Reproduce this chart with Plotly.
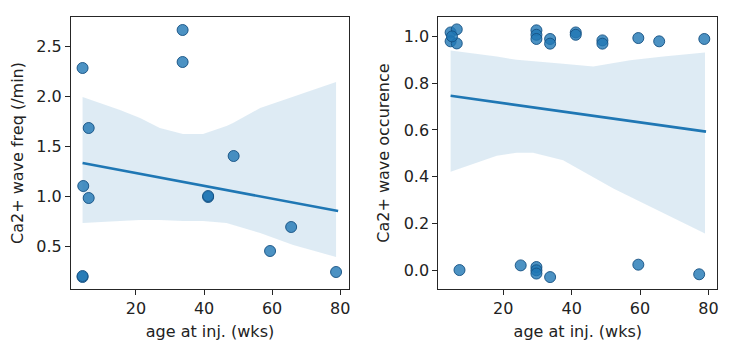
import plotly.graph_objects as go

# ---- data: left panel (wave frequency) ----
freq_age = [4.3, 4.3, 4.5, 6.1, 6.1, 33.7, 33.7, 41.2, 41.2, 48.7, 59.4, 65.6, 78.8, 4.3]
freq_val = [2.28, 0.19, 1.10, 1.68, 0.98, 2.66, 2.34, 0.99, 1.00, 1.40, 0.45, 0.69, 0.24, 0.20]
freq_fit_x = [4.3, 79.4]
freq_fit_y = [1.33, 0.85]
freq_ci_x = [4.3, 15.3, 21.2, 27.0, 33.8, 39.7, 46.6, 48.5, 56.5, 66.2, 78.8]
freq_ci_hi = [1.99, 1.86, 1.78, 1.68, 1.62, 1.62, 1.70, 1.73, 1.88, 1.99, 2.14]
freq_ci_lo = [0.73, 0.75, 0.76, 0.76, 0.75, 0.75, 0.73, 0.71, 0.63, 0.51, 0.39]

# ---- data: right panel (wave occurrence) ----
occ_age = [4.6, 6.4, 4.6, 6.4, 5.0, 29.7, 29.7, 29.7, 33.7, 33.7, 41.2, 41.2, 49.0, 49.0,
           59.5, 65.6, 78.8,
           7.2, 25.1, 29.7, 29.7, 29.7, 33.7, 59.5, 77.3]
occ_val = [1.017, 1.03, 0.979, 0.97, 1.00, 1.026, 1.007, 0.989, 0.989, 0.969, 1.017, 1.007, 0.983, 0.969,
           0.993, 0.979, 0.989,
           0.001, 0.021, 0.014, 0.0, -0.014, -0.029, 0.024, -0.017]
occ_fit_x = [4.6, 79.3]
occ_fit_y = [0.746, 0.593]
occ_ci_x = [4.6, 13.2, 18.1, 23.9, 28.7, 37.5, 46.3, 52.2, 57.1, 66.8, 79.0]
occ_ci_hi = [0.94, 0.925, 0.914, 0.90, 0.893, 0.883, 0.871, 0.886, 0.898, 0.914, 0.931]
occ_ci_lo = [0.421, 0.464, 0.49, 0.503, 0.503, 0.471, 0.40, 0.35, 0.314, 0.243, 0.157]

x_ticks = [20, 40, 60, 80]
freq_ticks = [0.5, 1.0, 1.5, 2.0, 2.5]
occ_ticks = [0.0, 0.2, 0.4, 0.6, 0.8, 1.0]

C0 = "#1f77b4"
FONT = "DejaVu Sans"
FS = 16
W, H, OFF = 722, 339, 8   # page body has an 8px margin

fig = go.Figure()

def add_panel(xa, ya, ax, ay, cx, chi, clo, fx, fy):
    fig.add_trace(go.Scatter(
        x=cx + cx[::-1], y=chi + clo[::-1], fill="toself",
        fillcolor="rgba(31,119,180,0.15)", line=dict(width=0),
        mode="lines", hoverinfo="skip", xaxis=xa, yaxis=ya, showlegend=False))
    fig.add_trace(go.Scatter(
        x=ax, y=ay, mode="markers",
        marker=dict(size=11, color="rgba(31,119,180,0.8)",
                    line=dict(color="rgba(20,80,130,0.9)", width=1)),
        xaxis=xa, yaxis=ya, showlegend=False))
    fig.add_trace(go.Scatter(
        x=fx, y=fy, mode="lines", line=dict(color=C0, width=2.6),
        xaxis=xa, yaxis=ya, showlegend=False))

add_panel("x", "y", freq_age, freq_val, freq_ci_x, freq_ci_hi, freq_ci_lo, freq_fit_x, freq_fit_y)
add_panel("x2", "y2", occ_age, occ_val, occ_ci_x, occ_ci_hi, occ_ci_lo, occ_fit_x, occ_fit_y)

axis_common = dict(showgrid=False, zeroline=False, showline=True, linecolor="#262626",
                   linewidth=1, mirror=True, ticks="outside", ticklen=5, tickwidth=1,
                   tickcolor="#262626", automargin=False,
                   tickfont=dict(family=FONT, size=FS, color="#222222"))

def px_x(p):
    return (p - OFF) / W

def px_y(p):
    return 1 - (p - OFF) / H

ydom = [px_y(289), px_y(17)]
fig.update_layout(
    width=W, height=H, margin=dict(l=0, r=0, t=0, b=0),
    paper_bgcolor="white", plot_bgcolor="white",
    font=dict(family=FONT, size=FS, color="#222222"),
    xaxis=dict(domain=[px_x(71), px_x(349)], range=[0.9, 82.6], tickvals=x_ticks,
               title=dict(text="age at inj. (wks)", standoff=8, font=dict(size=FS)), **axis_common),
    yaxis=dict(domain=ydom, range=[0.07, 2.79], tickvals=freq_ticks,
               ticktext=[f"{v:.1f}" for v in freq_ticks],
               title=dict(text="Ca2+ wave freq (/min)", standoff=10, font=dict(size=FS)), **axis_common),
    xaxis2=dict(domain=[px_x(438.3), px_x(717.3)], range=[1.0, 82.6], tickvals=x_ticks, anchor="y2",
                title=dict(text="age at inj. (wks)", standoff=8, font=dict(size=FS)), **axis_common),
    yaxis2=dict(domain=ydom, range=[-0.080, 1.083], tickvals=occ_ticks, anchor="x2",
                ticktext=[f"{v:.1f}" for v in occ_ticks],
                title=dict(text="Ca2+ wave occurence", standoff=10, font=dict(size=FS)), **axis_common),
)

fig.write_html("out.html")
